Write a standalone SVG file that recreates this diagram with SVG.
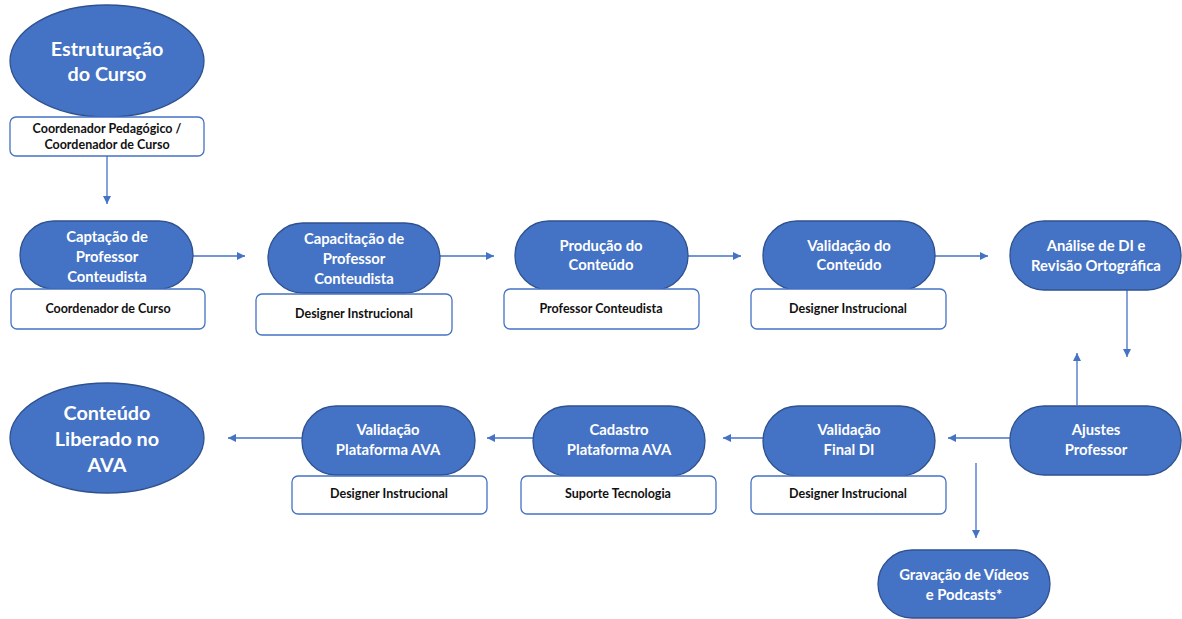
<svg xmlns="http://www.w3.org/2000/svg" width="1182" height="619" viewBox="0 0 1182 619">
<style>
.pill{fill:#4472C4;stroke:#2F528F;stroke-width:1.3}
.box{fill:#fff;stroke:#4472C4;stroke-width:1.3}
.t{font-family:Lato,"Open Sans","Liberation Sans",sans-serif;font-weight:700;fill:#fff;text-anchor:middle;font-size:14.8px}
.big{font-size:19.8px}
.s{font-family:Lato,"Open Sans","Liberation Sans",sans-serif;font-weight:700;fill:#111;text-anchor:middle;font-size:12.5px}
.c{stroke:#4472C4;stroke-width:1.3;fill:none;marker-end:url(#ah)}
</style>
<defs>
<marker id="ah" viewBox="0 0 10 10" refX="10" refY="5" markerWidth="8" markerHeight="8" markerUnits="userSpaceOnUse" orient="auto"><path d="M0,0 L10,5 L0,10 z" fill="#4472C4"/></marker>
</defs>
<rect width="1182" height="619" fill="#fff"/>
<g id="connectors">
<path class="c" d="M107,156 V204"/>
<path class="c" d="M193,256 H245"/>
<path class="c" d="M440,256 H494"/>
<path class="c" d="M688,256 H741"/>
<path class="c" d="M935,256 H988"/>
<path class="c" d="M1127,290 V357"/>
<path class="c" d="M1077,405 V353"/>
<path class="c" d="M1010,438 H948"/>
<path class="c" d="M763,438 H723"/>
<path class="c" d="M533,438 H487"/>
<path class="c" d="M302,438 H228"/>
<path class="c" d="M976,463 V538"/>
</g>
<g id="n-estruturacao">
<ellipse class="pill" cx="107" cy="61" rx="97" ry="56"/>
<text class="t big" x="107" y="56">Estruturação</text>
<text class="t big" x="107" y="81">do Curso</text>
</g>
<g id="r-estruturacao">
<rect class="box" x="10" y="117" width="194" height="39" rx="6"/>
<text class="s" x="107" y="133">Coordenador Pedagógico /</text>
<text class="s" x="107" y="149">Coordenador de Curso</text>
</g>
<g id="n-captacao">
<rect class="pill" x="20" y="221" width="173" height="68" rx="34"/>
<text class="t" x="107" y="242">Captação de</text>
<text class="t" x="107" y="262">Professor</text>
<text class="t" x="107" y="282">Conteudista</text>
</g>
<g id="r-captacao">
<rect class="box" x="11" y="289" width="194" height="40" rx="6"/>
<text class="s" x="108" y="313">Coordenador de Curso</text>
</g>
<g id="n-capacitacao">
<rect class="pill" x="268" y="223" width="172" height="70" rx="35"/>
<text class="t" x="354" y="244">Capacitação de</text>
<text class="t" x="354" y="264">Professor</text>
<text class="t" x="354" y="284">Conteudista</text>
</g>
<g id="r-capacitacao">
<rect class="box" x="256" y="294" width="196" height="41" rx="6"/>
<text class="s" x="354" y="318">Designer Instrucional</text>
</g>
<g id="n-producao">
<rect class="pill" x="515" y="221" width="173" height="69" rx="34"/>
<text class="t" x="601" y="251">Produção do</text>
<text class="t" x="601" y="270">Conteúdo</text>
</g>
<g id="r-producao">
<rect class="box" x="504" y="289" width="195" height="40" rx="6"/>
<text class="s" x="601" y="313">Professor Conteudista</text>
</g>
<g id="n-validacao">
<rect class="pill" x="763" y="221" width="172" height="69" rx="34"/>
<text class="t" x="849" y="251">Validação do</text>
<text class="t" x="849" y="270">Conteúdo</text>
</g>
<g id="r-validacao">
<rect class="box" x="751" y="289" width="195" height="40" rx="6"/>
<text class="s" x="848" y="313">Designer Instrucional</text>
</g>
<g id="n-analise">
<rect class="pill" x="1010" y="221" width="171" height="69" rx="34"/>
<text class="t" x="1096" y="251">Análise de DI e</text>
<text class="t" x="1096" y="271">Revisão Ortográfica</text>
</g>
<g id="n-ajustes">
<rect class="pill" x="1010" y="406" width="171" height="69" rx="34"/>
<text class="t" x="1096" y="435">Ajustes</text>
<text class="t" x="1096" y="455">Professor</text>
</g>
<g id="n-validacao-final">
<rect class="pill" x="763" y="406" width="172" height="70" rx="35"/>
<text class="t" x="849" y="435">Validação</text>
<text class="t" x="849" y="455">Final DI</text>
</g>
<g id="r-validacao-final">
<rect class="box" x="751" y="476" width="195" height="38" rx="6"/>
<text class="s" x="848" y="498">Designer Instrucional</text>
</g>
<g id="n-cadastro">
<rect class="pill" x="533" y="406" width="172" height="70" rx="35"/>
<text class="t" x="619" y="435">Cadastro</text>
<text class="t" x="619" y="455">Plataforma AVA</text>
</g>
<g id="r-cadastro">
<rect class="box" x="521" y="476" width="195" height="38" rx="6"/>
<text class="s" x="618" y="498">Suporte Tecnologia</text>
</g>
<g id="n-validacao-ava">
<rect class="pill" x="302" y="406" width="173" height="69" rx="34"/>
<text class="t" x="388" y="435">Validação</text>
<text class="t" x="388" y="455">Plataforma AVA</text>
</g>
<g id="r-validacao-ava">
<rect class="box" x="292" y="476" width="195" height="38" rx="6"/>
<text class="s" x="389" y="498">Designer Instrucional</text>
</g>
<g id="n-liberado">
<ellipse class="pill" cx="107" cy="438" rx="97" ry="55"/>
<text class="t big" x="107" y="420">Conteúdo</text>
<text class="t big" x="107" y="446">Liberado no</text>
<text class="t big" x="107" y="472">AVA</text>
</g>
<g id="n-gravacao">
<rect class="pill" x="878" y="550" width="172" height="68" rx="34"/>
<text class="t" x="964" y="580">Gravação de Vídeos</text>
<text class="t" x="964" y="600">e Podcasts*</text>
</g>
</svg>
